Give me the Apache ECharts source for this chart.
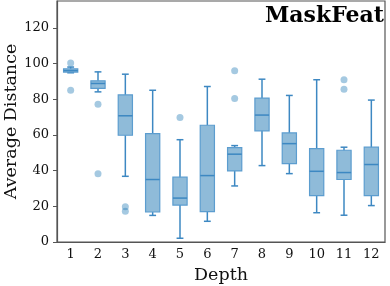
<!DOCTYPE html>
<html>
<head>
<meta charset="utf-8">
<script src="https://cdn.jsdelivr.net/npm/echarts@6/dist/echarts.min.js"></script>
<style>html,body{margin:0;padding:0;background:#fff}#c{width:390px;height:286px}</style>
</head>
<body>
<div id="c"></div>
<script>
var depths = ['1','2','3','4','5','6','7','8','9','10','11','12'];
var mins    = [94.8, 84.1, 36.8, 14.9,  2.1, 11.6, 31.4, 42.8, 38.3, 16.4, 15.0, 20.4];
var q1s     = [95.2, 86.0, 59.8, 16.8, 20.7, 17.0, 39.8, 62.3, 43.9, 26.0, 35.0, 26.0];
var medians = [96.0, 88.8, 70.7, 35.0, 24.6, 37.2, 49.2, 71.1, 55.1, 39.6, 38.9, 43.4];
var q3s     = [97.0, 90.3, 82.4, 60.7, 36.3, 65.4, 52.9, 80.6, 61.1, 52.3, 51.4, 53.1];
var maxs    = [98.0, 95.3, 94.0, 85.0, 57.3, 87.1, 54.0, 91.2, 82.1, 90.9, 53.1, 79.5];
var outliers = [
  [0, 100.3], [0, 85.0],
  [1, 77.2], [1, 38.3],
  [2, 19.8], [2, 17.2],
  [4, 69.7],
  [6, 95.9], [6, 80.4],
  [10, 90.9], [10, 85.6]
];
var yTicks = [0, 20, 40, 60, 80, 100, 120];

var boxData = depths.map(function (d, i) {
  return [i, mins[i], q1s[i], medians[i], q3s[i], maxs[i]];
});

var FILL = 'rgba(31,119,180,0.5)';
var EDGE = '#5c9dcf';
var LINE = '#3d88c2';
var FONT = 'DejaVu Serif';

function renderBox(params, api) {
  var idx = api.value(0);
  var pMin = api.coord([idx, api.value(1)]);
  var pQ1 = api.coord([idx, api.value(2)]);
  var pMed = api.coord([idx, api.value(3)]);
  var pQ3 = api.coord([idx, api.value(4)]);
  var pMax = api.coord([idx, api.value(5)]);
  var band = api.size([1, 0])[0];
  var bw = band * 0.52;
  var cw = band * 0.25;
  var x = pMed[0];
  return {
    type: 'group',
    children: [
      { type: 'line', shape: { x1: x, y1: pQ1[1], x2: x, y2: pMin[1] }, style: { stroke: LINE, lineWidth: 1.5 } },
      { type: 'line', shape: { x1: x, y1: pQ3[1], x2: x, y2: pMax[1] }, style: { stroke: LINE, lineWidth: 1.5 } },
      { type: 'line', shape: { x1: x - cw / 2, y1: pMin[1], x2: x + cw / 2, y2: pMin[1] }, style: { stroke: LINE, lineWidth: 1.5 } },
      { type: 'line', shape: { x1: x - cw / 2, y1: pMax[1], x2: x + cw / 2, y2: pMax[1] }, style: { stroke: LINE, lineWidth: 1.5 } },
      { type: 'rect', shape: { x: x - bw / 2, y: pQ3[1], width: bw, height: pQ1[1] - pQ3[1] }, style: { fill: FILL, stroke: EDGE, lineWidth: 1.2 } },
      { type: 'line', shape: { x1: x - bw / 2, y1: pMed[1], x2: x + bw / 2, y2: pMed[1] }, style: { stroke: LINE, lineWidth: 1.5 } }
    ]
  };
}

var chart = echarts.init(document.getElementById('c'));
chart.setOption({
  animation: false,
  title: {
    text: 'MaskFeat', right: 1, top: 0,
    textStyle: { fontFamily: FONT, fontWeight: 'bold', fontSize: 22, color: '#000' }
  },
  grid: { left: 57, right: 5, top: 1, bottom: 44, outerBoundsMode: 'none', containLabel: false, show: true, borderColor: '#555', borderWidth: 1.2, backgroundColor: 'transparent' },
  xAxis: {
    type: 'category', data: depths, boundaryGap: true,
    name: 'Depth', nameLocation: 'middle', nameGap: 24, nameMoveOverlap: false,
    nameTextStyle: { fontFamily: FONT, fontSize: 17.5, color: '#111' },
    axisLine: { lineStyle: { color: '#555', width: 1.2 } },
    axisTick: { alignWithLabel: true, length: 4, lineStyle: { color: '#555' } },
    axisLabel: { fontFamily: FONT, fontSize: 13, color: '#111', margin: 6 },
    splitLine: { show: false }
  },
  yAxis: {
    type: 'value', min: 0, max: 135,
    name: 'Average Distance', nameLocation: 'middle', nameGap: 37, nameMoveOverlap: false,
    nameTextStyle: { fontFamily: FONT, fontSize: 17.5, color: '#111' },
    axisLine: { show: true, lineStyle: { color: '#555', width: 1.2 } },
    axisTick: { show: true, length: 4, lineStyle: { color: '#555' }, customValues: yTicks },
    axisLabel: { fontFamily: FONT, fontSize: 13, color: '#111', margin: 8, customValues: yTicks },
    splitLine: { show: false }
  },
  series: [
    {
      type: 'custom', renderItem: renderBox, data: boxData,
      encode: { x: 0, y: [1, 2, 3, 4, 5] }, z: 2
    },
    {
      type: 'scatter', data: outliers, symbolSize: 7,
      itemStyle: { color: 'rgba(31,119,180,0.5)' }, z: 3
    }
  ]
});
</script>
</body>
</html>
